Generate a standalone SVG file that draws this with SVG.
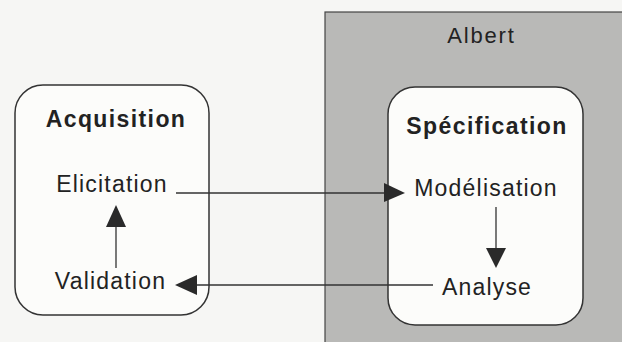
<svg xmlns="http://www.w3.org/2000/svg" width="622" height="342" viewBox="0 0 622 342">
  <defs>
    <style>
      .box { fill: #fcfcfa; stroke: #333; stroke-width: 1.5; }
      .title { font-family: "Liberation Sans", Arial, sans-serif; font-weight: bold; font-size: 23px; letter-spacing: 1.4px; fill: #222; text-anchor: middle; }
      .label { font-family: "Liberation Sans", Arial, sans-serif; font-size: 23px; letter-spacing: 1.2px; fill: #222; text-anchor: middle; }
      .edge { stroke: #333; stroke-width: 1.3; fill: none; }
      .head { fill: #2a2a2a; }
    </style>
  </defs>

  <rect width="622" height="342" fill="#f6f6f4"/>

  <!-- Albert region -->
  <g id="albert">
    <rect x="325" y="12" width="300" height="335" fill="#b9b9b7" stroke="#444" stroke-width="1.2"/>
    <text class="label" x="481.5" y="43" style="font-size:22px;letter-spacing:1.8px">Albert</text>
  </g>

  <!-- Acquisition -->
  <g id="acquisition">
    <rect class="box" x="15" y="85" width="194" height="230" rx="28" ry="28"/>
    <text class="title" x="116" y="127">Acquisition</text>
  </g>
  <g id="elicitation">
    <text class="label" x="112" y="192">Elicitation</text>
  </g>
  <g id="validation">
    <text class="label" x="110.5" y="289">Validation</text>
  </g>

  <!-- Spécification -->
  <g id="specification">
    <rect class="box" x="388" y="87" width="195" height="238" rx="27" ry="27"/>
    <text class="title" x="487" y="134">Spécification</text>
  </g>
  <g id="modelisation">
    <text class="label" x="486" y="196">Modélisation</text>
  </g>
  <g id="analyse">
    <text class="label" x="487" y="295">Analyse</text>
  </g>

  <!-- connectors -->
  <g id="connectors">
    <line class="edge" x1="176" y1="193" x2="388" y2="193"/>
    <polygon class="head" points="384,183 405,193 384,202"/>
    <line class="edge" x1="433" y1="285" x2="194" y2="285"/>
    <polygon class="head" points="197,275 175,285 197,295"/>
    <line class="edge" x1="496" y1="207" x2="496" y2="250"/>
    <polygon class="head" points="486,248 506,248 496,268"/>
    <line class="edge" x1="116" y1="268" x2="116" y2="225"/>
    <polygon class="head" points="106,227 126,227 116,205"/>
  </g>
</svg>
